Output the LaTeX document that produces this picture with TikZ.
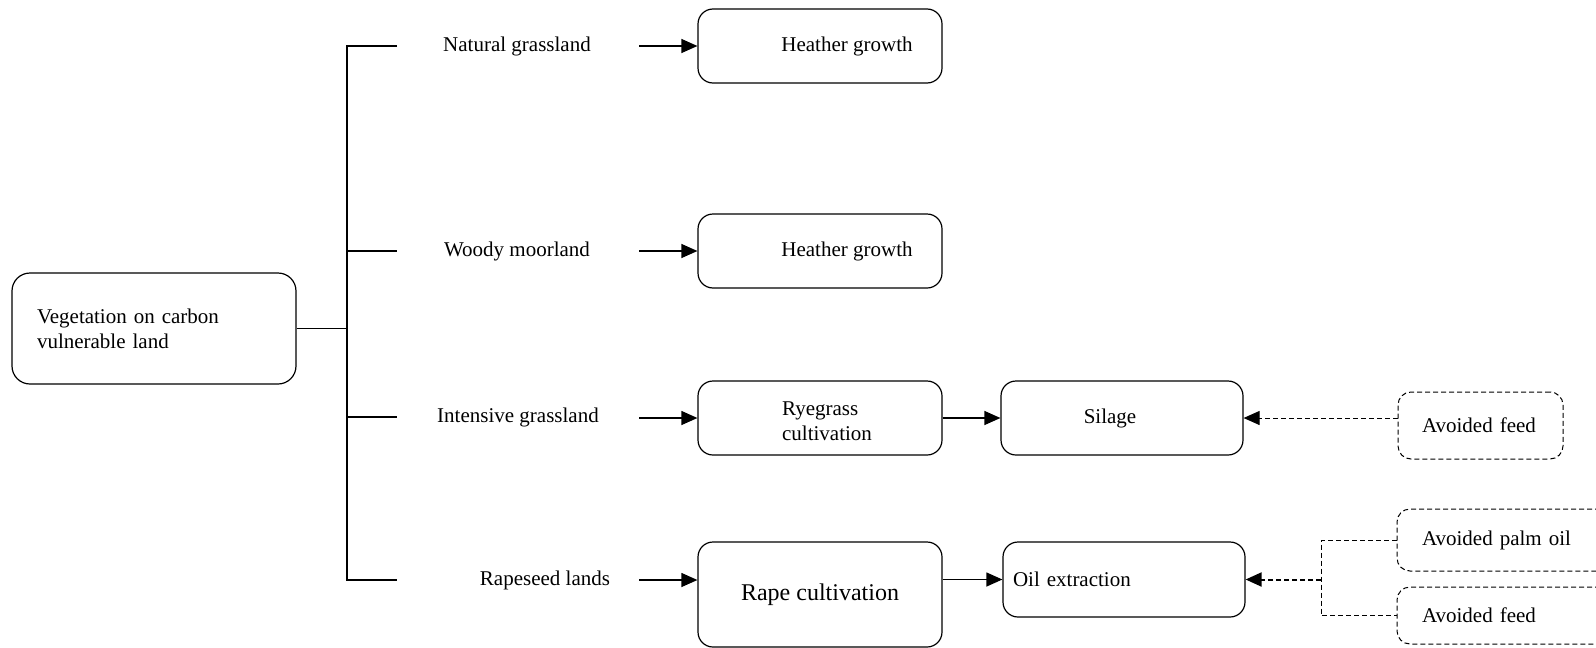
\documentclass[tikz,border=0pt]{standalone}
\usepackage{fontspec}
\setmainfont{Liberation Serif}
\usetikzlibrary{arrows.meta}
\begin{document}
\begin{tikzpicture}[x=1pt,y=-1pt,
 every node/.style={font=\fontsize{21}{25}\selectfont},
 box/.style={draw, line width=1.2pt, rounded corners=15pt, inner sep=0pt},
 avoid/.style={draw, line width=1pt, dash pattern=on 5pt off 3pt, rounded corners=13pt, inner sep=0pt},
 link/.style={line width=1.2pt},
 dline/.style={line width=1pt, dash pattern=on 5pt off 3pt},
 arr/.style={line width=1.2pt, -{Triangle[length=16pt,width=14pt]}},
 darr/.style={line width=1pt, dash pattern=on 5pt off 3pt, -{Triangle[length=16pt,width=14pt]}},
 lbl/.style={inner sep=0pt}]
\useasboundingbox (0,0) rectangle (1596,648);
\clip (0,0) rectangle (1596,648);

% main box
\node[box, rounded corners=18pt, minimum width=284pt, minimum height=111pt, inner xsep=25pt, text width=234pt, align=left] (main) at (154,328.5) {Vegetation on carbon\\vulnerable land};

% land-type labels
\node[lbl] (l1) at (517,46) {Natural grassland};
\node[lbl] (l2) at (517,251) {Woody moorland};
\node[lbl] (l3) at (518,417) {Intensive grassland};
\node[lbl] (l4) at (545,580) {Rapeseed lands};

% process boxes
\node[box, minimum width=244pt, minimum height=74pt, label={[lbl, xshift=27pt]center:Heather growth}] (h1) at (820,46) {};
\node[box, minimum width=244pt, minimum height=74pt, label={[lbl, xshift=27pt]center:Heather growth}] (h2) at (820,251) {};
\node[box, minimum width=244pt, minimum height=74pt, label={[lbl, align=left, xshift=7pt, yshift=-3pt]center:Ryegrass\\cultivation}] (rye) at (820,418) {};
\node[box, minimum width=242pt, minimum height=74pt, label={[lbl, xshift=-12pt]center:Silage}] (silage) at (1122,418) {};
\node[box, minimum width=244pt, minimum height=105pt, font=\fontsize{24}{28}\selectfont] (rape) at (820,594.5) {Rape cultivation};
\node[box, minimum width=242pt, minimum height=75pt, inner xsep=10pt, text width=222pt, align=left] (oil) at (1124,579.5) {Oil extraction};

% avoided products
\node[avoid, minimum width=165pt, minimum height=67pt, inner xsep=24pt, text width=117pt, align=left] (feed1) at (1480.5,425.5) {Avoided feed};
\node[avoid, minimum width=240pt, minimum height=62pt, inner xsep=25pt, text width=190pt, align=left] (palm) at (1517,540) {Avoided palm oil};
\node[avoid, minimum width=240pt, minimum height=57pt, inner xsep=25pt, text width=190pt, align=left] (feed2) at (1517,615.5) {Avoided feed};

% tree
\coordinate (j) at (347,328.5);
\coordinate (b1) at (397,46);
\coordinate (b2) at (397,251);
\coordinate (b3) at (397,417);
\coordinate (b4) at (397,580);
\draw[link] (b1) -- (b1 -| j) -- (b4 -| j) -- (b4);
\draw[link] (b2 -| j) -- (b2);
\draw[link] (b3 -| j) -- (b3);
\draw[link] (main.east) -- (j);

% arrows from labels
\coordinate (s1) at (639,46);
\coordinate (s2) at (639,251);
\coordinate (s3) at (639,418);
\coordinate (s4) at (639,580);
\draw[arr] (s1) -- (s1 -| h1.west);
\draw[arr] (s2) -- (s2 -| h2.west);
\draw[arr] (s3) -- (s3 -| rye.west);
\draw[arr] (s4) -- (s4 -| rape.west);

\draw[arr] (rye.east) -- (silage.west);
\draw[arr] (rape.east |- oil.west) -- (oil.west);

% avoided links
\draw[darr] (feed1.west |- silage.east) -- (silage.east);
\coordinate (k) at (1321,579.5);
\draw[dline] (palm.west) -| (k) |- (feed2.west);
\draw[darr, line width=2pt] (k) -- (oil.east);
\end{tikzpicture}
\end{document}
